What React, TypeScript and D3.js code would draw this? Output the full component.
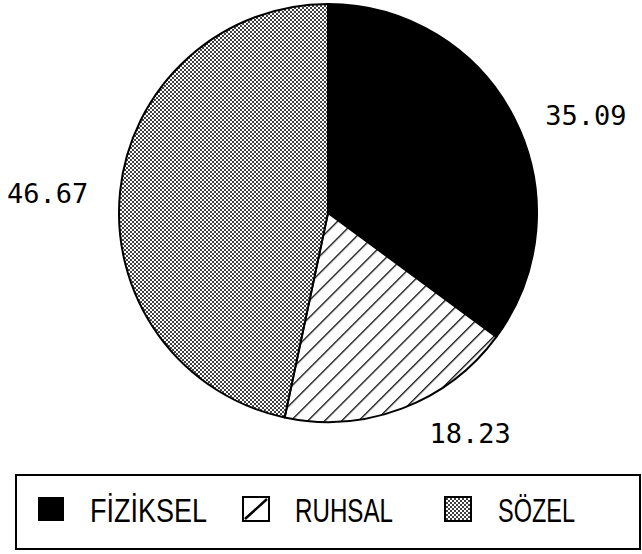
import * as d3 from "d3";

// slice data, clockwise from 12 o'clock
const categories = ["FİZİKSEL", "RUHSAL", "SÖZEL"];
const values = [35.09, 18.23, 46.67];
const valueLabels = ["35.09", "18.23", "46.67"];

const W = 642;
const H = 554;
const cx = 328;
const cy = 213;
const radius = 209;

// nudges of the value labels away from the slice mid angle
const labelNudge = [
  { a: 6, r: 276 },
  { a: -12, r: 262 },
  { a: -2, r: 281 },
];

const fills = ["#000", "url(#hatch)", "url(#dots)"];

export default function App() {
  const pie = d3
    .pie<number>()
    .sort(null)
    .value((d) => d);
  const arcs = pie(values);
  const arc = d3.arc<d3.PieArcDatum<number>>().innerRadius(0).outerRadius(radius);

  // legend layout
  const legendX = d3.scaleOrdinal<string, number>().domain(categories).range([38, 243, 445]);
  const textX = d3.scaleOrdinal<string, number>().domain(categories).range([90, 295, 498]);
  const textW = [117, 98, 77];

  return (
    <svg
      width={W}
      height={H}
      style={{ position: "absolute", left: 0, top: 0, background: "#fff" }}
    >
      <defs>
        <pattern id="dots" width={4} height={4} patternUnits="userSpaceOnUse">
          <rect width={4} height={4} fill="#fff" />
          <rect x={0} y={0} width={2} height={2} fill="#000" opacity={0.75} />
          <rect x={2} y={2} width={2} height={2} fill="#000" opacity={0.75} />
        </pattern>
        <pattern
          id="hatch"
          width={12}
          height={12}
          patternUnits="userSpaceOnUse"
          patternTransform="rotate(45)"
        >
          <rect width={12} height={12} fill="#fff" />
          <line x1={0} y1={0} x2={0} y2={12} stroke="#000" strokeWidth={2.6} />
        </pattern>
      </defs>

      <g transform={`translate(${cx},${cy})`}>
        {arcs.map((a, i) => (
          <path
            key={categories[i]}
            d={arc(a) ?? ""}
            fill={fills[i]}
            stroke="#000"
            strokeWidth={2}
            strokeLinejoin="round"
          />
        ))}
        {arcs.map((a, i) => {
          const mid = (a.startAngle + a.endAngle) / 2 + (labelNudge[i].a * Math.PI) / 180;
          const r = labelNudge[i].r;
          return (
            <text
              key={"l" + i}
              x={Math.sin(mid) * r}
              y={-Math.cos(mid) * r}
              dy="0.36em"
              textAnchor="middle"
              fontFamily="'DejaVu Sans Mono', monospace"
              fontSize={27}
              fill="#000"
            >
              {valueLabels[i]}
            </text>
          );
        })}
      </g>

      <rect x={16} y={475} width={624} height={74} fill="none" stroke="#000" strokeWidth={2} />
      {categories.map((c, i) => {
        const x = legendX(c);
        return (
          <g key={c}>
            <rect
              x={x}
              y={497}
              width={26}
              height={24}
              fill={i === 1 ? "#fff" : fills[i]}
              stroke="#000"
              strokeWidth={i === 0 ? 0 : 2}
            />
            {i === 1 && (
              <line x1={x + 2} y1={519} x2={x + 24} y2={499} stroke="#000" strokeWidth={2.5} />
            )}
            <text
              x={textX(c)}
              y={522}
              fontFamily="'Liberation Sans', Arial, sans-serif"
              fontSize={33}
              textLength={textW[i]}
              lengthAdjust="spacingAndGlyphs"
              fill="#000"
            >
              {c}
            </text>
          </g>
        );
      })}
    </svg>
  );
}
